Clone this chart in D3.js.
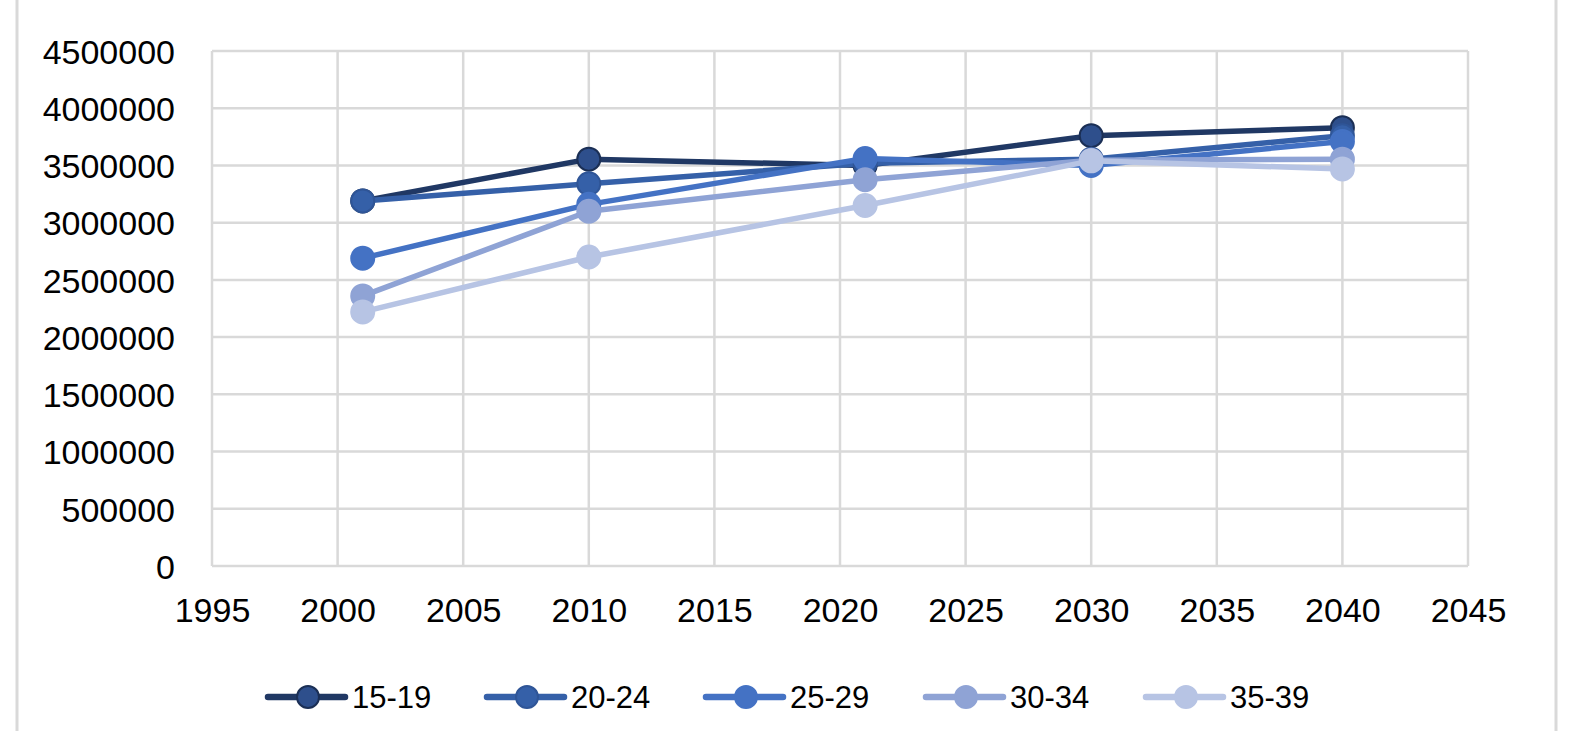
<!DOCTYPE html>
<html>
<head>
<meta charset="utf-8">
<script src="https://cdn.jsdelivr.net/npm/d3@7"></script>
<style>
  html, body { margin: 0; padding: 0; background: #ffffff; }
  svg { display: block; }
  text { font-family: "Liberation Sans", Arial, sans-serif; fill: #000; }
</style>
</head>
<body>
<svg id="chart" width="1573" height="731"></svg>
<script>
// ---- Data ----
const years = [2001, 2010, 2021, 2030, 2040];
const seriesNames = ["15-19", "20-24", "25-29", "30-34", "35-39"];
const s15_19 = [3190000, 3555000, 3500000, 3760000, 3830000];
const s20_24 = [3190000, 3340000, 3520000, 3555000, 3760000];
const s25_29 = [2690000, 3160000, 3560000, 3500000, 3710000];
const s30_34 = [2360000, 3100000, 3375000, 3545000, 3555000];
const s35_39 = [2220000, 2700000, 3150000, 3540000, 3470000];
const xTicks = [1995, 2000, 2005, 2010, 2015, 2020, 2025, 2030, 2035, 2040, 2045];
const yTicks = [0, 500000, 1000000, 1500000, 2000000, 2500000, 3000000, 3500000, 4000000, 4500000];

const seriesValues = [s15_19, s20_24, s25_29, s30_34, s35_39];
const lineColors   = ["#203864", "#3560A8", "#4472C4", "#8FA3D5", "#B7C4E4"];
const markerFill   = ["#2E4F8C", "#3560A8", "#4472C4", "#8FA3D5", "#B7C4E4"];
const markerStroke = ["#1B2F55", "#2F5597", "#4472C4", "#8FA3D5", "#B7C4E4"];

// ---- Layout ----
const svg = d3.select("#chart");
const plotLeft = 212, plotRight = 1468, plotTop = 51, plotBottom = 566;

const x = d3.scaleLinear().domain([1995, 2045]).range([plotLeft, plotRight]);
const y = d3.scaleLinear().domain([0, 4500000]).range([plotBottom, plotTop]);

// outer frame
svg.append("rect")
  .attr("x", 17).attr("y", -20)
  .attr("width", 1556 - 17).attr("height", 771)
  .attr("fill", "none").attr("stroke", "#D9D9D9").attr("stroke-width", 3);

const grid = svg.append("g");
grid.selectAll("line.h").data(yTicks).join("line")
  .attr("class", "h")
  .attr("x1", plotLeft).attr("x2", plotRight)
  .attr("y1", d => y(d)).attr("y2", d => y(d))
  .attr("stroke", "#D9D9D9").attr("stroke-width", 2.5);
grid.selectAll("line.v").data(xTicks).join("line")
  .attr("class", "v")
  .attr("x1", d => x(d)).attr("x2", d => x(d))
  .attr("y1", plotTop).attr("y2", plotBottom)
  .attr("stroke", "#D9D9D9").attr("stroke-width", 2.5);

// Y axis labels
const yAxis = d3.axisLeft(y).tickValues(yTicks).tickSize(0).tickPadding(37)
  .tickFormat(d => String(d));
const gy = svg.append("g").attr("transform", `translate(${plotLeft},0)`).call(yAxis);
gy.select(".domain").remove();
gy.selectAll("text").style("font-size", "34px").style("font-family", '"Liberation Sans", Arial, sans-serif').attr("fill", "#000").attr("dy", "0.36em");

// X axis labels
const xAxis = d3.axisBottom(x).tickValues(xTicks).tickSize(0).tickPadding(32)
  .tickFormat(d => String(d));
const gx = svg.append("g").attr("transform", `translate(0,${plotBottom})`).call(xAxis);
gx.select(".domain").remove();
gx.selectAll("text").style("font-size", "34px").style("font-family", '"Liberation Sans", Arial, sans-serif').attr("fill", "#000");

// Series
const line = d3.line().x((d, i) => x(years[i])).y(d => y(d));
seriesValues.forEach((vals, si) => {
  const g = svg.append("g");
  g.append("path")
    .attr("d", line(vals))
    .attr("fill", "none")
    .attr("stroke", lineColors[si])
    .attr("stroke-width", 5.5)
    .attr("stroke-linejoin", "round")
    .attr("stroke-linecap", "round");
  g.selectAll("circle").data(vals).join("circle")
    .attr("cx", (d, i) => x(years[i]))
    .attr("cy", d => y(d))
    .attr("r", 11.5)
    .attr("fill", markerFill[si])
    .attr("stroke", markerStroke[si])
    .attr("stroke-width", 2);
});

// Legend
const legendY = 697;
const legendStarts = [268, 487, 706, 926, 1146];
seriesNames.forEach((name, si) => {
  const lx = legendStarts[si];
  const g = svg.append("g");
  g.append("line")
    .attr("x1", lx).attr("x2", lx + 77)
    .attr("y1", legendY).attr("y2", legendY)
    .attr("stroke", lineColors[si]).attr("stroke-width", 6.5)
    .attr("stroke-linecap", "round");
  g.append("circle")
    .attr("cx", lx + 40).attr("cy", legendY).attr("r", 11)
    .attr("fill", markerFill[si]).attr("stroke", markerStroke[si]).attr("stroke-width", 2);
  g.append("text")
    .attr("x", lx + 84).attr("y", legendY)
    .attr("dy", "0.36em")
    .style("font-size", "31px")
    .text(name);
});
</script>
</body>
</html>
